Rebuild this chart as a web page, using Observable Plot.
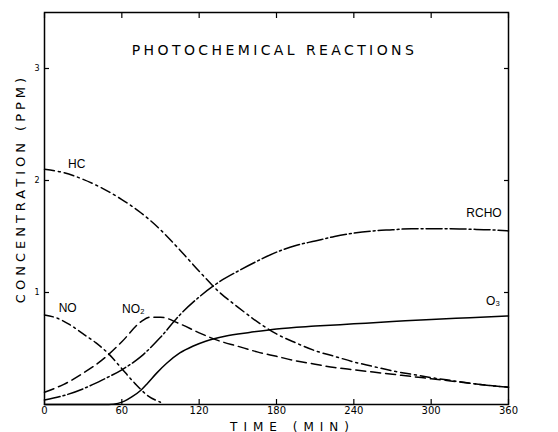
<!DOCTYPE html>
<html><head><meta charset="utf-8">
<script src="https://cdn.jsdelivr.net/npm/d3@7"></script>
<script src="https://cdn.jsdelivr.net/npm/@observablehq/plot@0.6"></script>
<style>body{margin:0;background:#fff} svg{display:block;background:#fff}</style>
</head><body><div id="chart"></div>
<script>
// ---- data ----
const title = "PHOTOCHEMICAL REACTIONS";
const xLabel = "TIME (MIN)";
const yLabel = "CONCENTRATION (PPM)";
const xTicks = [0, 60, 120, 180, 240, 300, 360];
const yTicks = [1, 2, 3];

const hcTime  = [0,15,30,45,60,75,90,105,120,135,150,165,180,195,210,225,240,255,270,285,300,315,330,345,360];
const hcValue = [2.10,2.07,2.01,1.93,1.83,1.71,1.56,1.38,1.19,1.01,0.87,0.74,0.63,0.55,0.48,0.43,0.38,0.34,0.30,0.27,0.24,0.215,0.19,0.17,0.155];

const noTime  = [0,10,20,30,40,50,60,70,80,90];
const noValue = [0.80,0.77,0.71,0.63,0.55,0.45,0.32,0.19,0.08,0.02];

const no2Time  = [0,15,30,45,60,75,82,90,105,120,135,150,165,180,195,210,225,240,255,270,285,300,315,330,345,360];
const no2Value = [0.11,0.18,0.28,0.40,0.56,0.74,0.78,0.78,0.72,0.64,0.57,0.52,0.47,0.43,0.39,0.36,0.33,0.31,0.29,0.27,0.25,0.23,0.21,0.19,0.17,0.155];

const rchoTime  = [0,15,30,45,60,75,90,105,120,135,150,165,180,195,210,225,240,255,270,285,300,315,330,345,360];
const rchoValue = [0.04,0.08,0.14,0.22,0.31,0.43,0.60,0.80,0.96,1.09,1.19,1.28,1.36,1.42,1.46,1.50,1.53,1.55,1.56,1.57,1.57,1.57,1.565,1.56,1.55];

const o3Time  = [0,50,57,62,68,75,80,87,95,105,115,125,140,160,180,210,240,270,300,330,360];
const o3Value = [0,0,0.01,0.03,0.07,0.13,0.19,0.28,0.37,0.46,0.52,0.565,0.61,0.645,0.675,0.70,0.72,0.74,0.76,0.775,0.79];

const labelText = ["HC", "NO", "NO\u2082", "RCHO", "O\u2083"];
const labelTime = [25, 18, 69, 341, 348];
const labelValue = [2.15, 0.86, 0.85, 1.71, 0.92];

// ---- build tables ----
const toRows = (t, v) => t.map((d, i) => ({t: d, v: v[i]}));
const hc = toRows(hcTime, hcValue);
const no = toRows(noTime, noValue);
const no2 = toRows(no2Time, no2Value);
const rcho = toRows(rchoTime, rchoValue);
const o3 = toRows(o3Time, o3Value);
const labels = labelText.map((s, i) => ({s, t: labelTime[i], v: labelValue[i]}));

const lineOpts = {x: "t", y: "v", stroke: "black", strokeWidth: 1.5, curve: "monotone-x"};

const chart = Plot.plot({
  width: 558,
  height: 432,
  marginLeft: 44,
  marginRight: 50,
  marginTop: 12,
  marginBottom: 28,
  style: {fontFamily: "DejaVu Sans", color: "black", background: "white"},
  x: {domain: [0, 360]},
  y: {domain: [0, 3.5]},
  marks: [
    Plot.frame({stroke: "black", strokeWidth: 1.5}),
    // tick labels
    Plot.axisX(xTicks, {anchor: "bottom", tickSize: 0, tickPadding: 2, fontSize: 10, label: null, tickFormat: d => String(d)}),
    Plot.axisY(yTicks, {anchor: "left", tickSize: 0, tickPadding: 5, fontSize: 8, label: null, tickFormat: d => String(d)}),
    // inward ticks on all sides
    Plot.axisX(xTicks, {anchor: "bottom", tickSize: -5, text: null, label: null, strokeWidth: 1.2}),
    Plot.axisX(xTicks, {anchor: "top", tickSize: -5, text: null, label: null, strokeWidth: 1.2}),
    Plot.axisY(yTicks, {anchor: "left", tickSize: -5, text: null, label: null, strokeWidth: 1.2}),
    Plot.axisY(yTicks, {anchor: "right", tickSize: -5, text: null, label: null, strokeWidth: 1.2}),
    // curves
    Plot.line(hc, {...lineOpts, strokeDasharray: "10,4,2,4"}),
    Plot.line(no, {...lineOpts, strokeDasharray: "9,4,2,4"}),
    Plot.line(no2, {...lineOpts, strokeDasharray: "10,5"}),
    Plot.line(rcho, {...lineOpts, strokeDasharray: "16,3,2,3"}),
    Plot.line(o3, {...lineOpts}),
    // curve labels
    Plot.text(labels, {x: "t", y: "v", text: "s", fontSize: 12, fontFamily: "Liberation Sans", fill: "black"}),
    // title & axis labels
    Plot.text([title], {frameAnchor: "top", dy: 33, dx: -2, fontSize: 14, fill: "black"}),
    Plot.text([xLabel], {frameAnchor: "bottom", dy: 26, dx: 16, fontSize: 12, fill: "black"}),
    Plot.text([yLabel], {frameAnchor: "left", textAnchor: "middle", rotate: -90, dx: -24, dy: -20, fontSize: 13, fill: "black"})
  ]
});

d3.select(chart).selectAll("text").each(function () {
  const s = this.textContent;
  if (s === title) d3.select(this).style("letter-spacing", "3.4px");
  if (s === xLabel) d3.select(this).style("letter-spacing", "6px");
  if (s === yLabel) d3.select(this).style("letter-spacing", "4px");
});

document.getElementById("chart").append(chart);
</script>
</body></html>
